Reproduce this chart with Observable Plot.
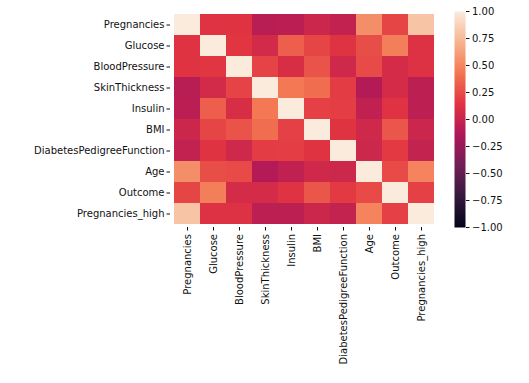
<!DOCTYPE html>
<html>
<head>
<meta charset="utf-8">
<script src="https://cdn.jsdelivr.net/npm/d3@7"></script>
<script src="https://cdn.jsdelivr.net/npm/@observablehq/plot@0.6"></script>
<style>
  html, body { margin: 0; padding: 0; background: #fff; }
  #wrap { position: relative; width: 529px; height: 383px; }
  #wrap svg { position: absolute; left: 0; top: 0; font-family: "DejaVu Sans", sans-serif; }
</style>
</head>
<body>
<div id="wrap"></div>
<script>
const variables = ["Pregnancies", "Glucose", "BloodPressure", "SkinThickness", "Insulin", "BMI",
  "DiabetesPedigreeFunction", "Age", "Outcome", "Pregnancies_high"];

const rowPregnancies   = [1.00, 0.13, 0.14, -0.08, -0.07, 0.02, -0.03, 0.54, 0.22, 0.80];
const rowGlucose       = [0.13, 1.00, 0.15, 0.06, 0.33, 0.22, 0.14, 0.26, 0.47, 0.12];
const rowBloodPressure = [0.14, 0.15, 1.00, 0.21, 0.09, 0.28, 0.04, 0.24, 0.07, 0.12];
const rowSkinThickness = [-0.08, 0.06, 0.21, 1.00, 0.44, 0.39, 0.18, -0.11, 0.07, -0.06];
const rowInsulin       = [-0.07, 0.33, 0.09, 0.44, 1.00, 0.20, 0.19, -0.04, 0.13, -0.06];
const rowBMI           = [0.02, 0.22, 0.28, 0.39, 0.20, 1.00, 0.14, 0.04, 0.29, 0.02];
const rowDPF           = [-0.03, 0.14, 0.04, 0.18, 0.19, 0.14, 1.00, 0.03, 0.17, -0.02];
const rowAge           = [0.54, 0.26, 0.24, -0.11, -0.04, 0.04, 0.03, 1.00, 0.24, 0.49];
const rowOutcome       = [0.22, 0.47, 0.07, 0.07, 0.13, 0.29, 0.17, 0.24, 1.00, 0.20];
const rowPregHigh      = [0.80, 0.12, 0.12, -0.06, -0.06, 0.02, -0.02, 0.49, 0.20, 1.00];
const rows = [rowPregnancies, rowGlucose, rowBloodPressure, rowSkinThickness, rowInsulin,
  rowBMI, rowDPF, rowAge, rowOutcome, rowPregHigh];

const colorTicks = [-1, -0.75, -0.5, -0.25, 0, 0.25, 0.5, 0.75, 1];

// rocket colormap anchors
const rocketColors = ["#03051a", "#35193e", "#701f57", "#ad1759", "#e13342", "#f37651", "#f6b48f", "#faebdd"];
const rocket = d3.piecewise(d3.interpolateRgb, rocketColors);

const table = [];
rows.forEach((r, i) => r.forEach((v, j) => table.push({row: variables[i], col: variables[j], value: v})));

const colorScale = {type: "linear", domain: [-1, 1], interpolate: t => rocket(t), clamp: true};
const textStyle = {fontSize: "10px", fontFamily: "DejaVu Sans, sans-serif", color: "#111", background: "transparent"};

const main = Plot.plot({
  width: 529, height: 383,
  marginLeft: 170, marginRight: 91, marginTop: 11, marginBottom: 156,
  style: textStyle,
  x: {domain: variables, padding: 0, label: null, tickRotate: -90, tickSize: 3.5, tickPadding: 3},
  y: {domain: variables, padding: 0, label: null, tickSize: 3.5, tickPadding: 2.5},
  color: colorScale,
  marks: [
    Plot.cell(table, {x: "col", y: "row", fill: "value", inset: 0})
  ]
});

const bar = Plot.plot({
  width: 529, height: 383,
  marginLeft: 454, marginRight: 64, marginTop: 11, marginBottom: 156,
  style: textStyle,
  x: {domain: [0, 1], axis: null},
  y: {domain: [-1, 1], axis: "right", ticks: colorTicks, tickFormat: d3.format(".2f"), label: null, tickSize: 3.5, tickPadding: 3},
  color: colorScale,
  marks: [
    Plot.raster({x1: 0, x2: 1, y1: -1, y2: 1, width: 1, height: 256, fill: (x, y) => y, imageRendering: "auto"})
  ]
});

const wrap = document.getElementById("wrap");
wrap.appendChild(main);
wrap.appendChild(bar);
</script>
</body>
</html>
